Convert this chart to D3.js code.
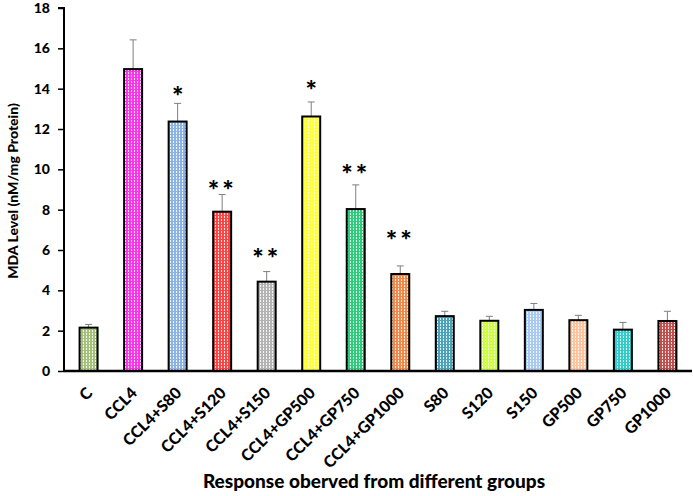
<!DOCTYPE html>
<html><head><meta charset="utf-8">
<script src="https://cdn.jsdelivr.net/npm/d3@7"></script>
<style>body{margin:0;background:#fff}svg{display:block}</style>
</head><body>
<svg id="c" width="693" height="496"></svg>
<script>
const categories = ["C","CCL4","CCL4+S80","CCL4+S120","CCL4+S150","CCL4+GP500","CCL4+GP750","CCL4+GP1000","S80","S120","S150","GP500","GP750","GP1000"];
const values = [2.15,14.97,12.37,7.9,4.43,12.62,8.03,4.81,2.72,2.49,3.03,2.52,2.05,2.48];
const errors = [0.16,1.45,0.9,0.85,0.5,0.72,1.2,0.4,0.24,0.22,0.32,0.24,0.36,0.48];
const colors = ["#a4c07a","#ff33ee","#8db3e2","#ff4444","#b4b4b4","#ffff3a","#2ecc7a","#f0884a","#4aa3b8","#ccff44","#a9c8f2","#fcc39c","#33cccc","#c0504d"];
const stars = ["","","*","**","**","*","**","**","","","","","",""];
const starLevels = [0,0,13.8,9.12,5.75,14.1,9.9,6.66,0,0,0,0,0,0];
const yTicks = [0,2,4,6,8,10,12,14,16,18];
const yTitle = "MDA Level (nM/mg Protein)";
const xTitle = "Response oberved from different groups";

const svg = d3.select("#c");
const font = "Lato, 'Open Sans', sans-serif";
const x = d3.scaleBand().domain(categories).range([64, 692]).paddingInner(0.596).paddingOuter(0.35);
const y = d3.scaleLinear().domain([0, 18]).range([371, 8]);

const defs = svg.append("defs");
colors.forEach((c, i) => {
  const p = defs.append("pattern").attr("id", "p" + i).attr("patternUnits", "userSpaceOnUse")
    .attr("width", 3).attr("height", 3);
  p.append("rect").attr("width", 3).attr("height", 3).attr("fill", c);
  p.append("rect").attr("x", 2).attr("y", 0).attr("width", 1).attr("height", 2).attr("fill", "#fff").attr("opacity", 0.85);
});

// y axis
const yAxis = d3.axisLeft(y).tickValues(yTicks).tickSize(6).tickFormat(d3.format("d"));
const ya = svg.append("g").attr("transform", "translate(64,0)").call(yAxis);
ya.select(".domain").attr("stroke", "#000").attr("stroke-width", 2).attr("d", "M-6,8H0V371");
ya.selectAll(".tick line").attr("stroke", "#000").attr("stroke-width", 1.5);
ya.selectAll(".tick text").attr("font-family", font).attr("font-weight", "900").attr("font-size", 14).attr("fill", "#000").attr("x", -14);

// bars, error bars, significance marks
const g = svg.append("g");
categories.forEach((cat, i) => {
  const cx = x(cat) + x.bandwidth() / 2;
  g.append("line").attr("x1", cx).attr("x2", cx).attr("y1", y(values[i])).attr("y2", y(values[i] + errors[i]))
    .attr("stroke", "#7f7f7f").attr("stroke-width", 1);
  g.append("line").attr("x1", cx - 3.5).attr("x2", cx + 3.5).attr("y1", y(values[i] + errors[i])).attr("y2", y(values[i] + errors[i]))
    .attr("stroke", "#7f7f7f").attr("stroke-width", 1);
  g.append("rect").attr("x", x(cat)).attr("y", y(values[i])).attr("width", x.bandwidth()).attr("height", y(0) - y(values[i]))
    .attr("fill", "url(#p" + i + ")").attr("stroke", "#000").attr("stroke-width", 2);
  if (stars[i]) {
    g.append("text").attr("x", cx).attr("y", y(starLevels[i]) + 13).attr("text-anchor", "middle")
      .attr("font-family", font).attr("font-weight", "900").attr("font-size", 27)
      .attr("letter-spacing", stars[i].length > 1 ? 3 : 0).text(stars[i]);
  }
});

// x axis
const xAxis = d3.axisBottom(x).tickSize(0);
const xa = svg.append("g").attr("transform", "translate(0,371)").call(xAxis);
xa.select(".domain").attr("stroke", "#000").attr("stroke-width", 2.5).attr("d", "M64,0H692");
xa.selectAll(".tick text").attr("font-family", font).attr("font-weight", "900").attr("font-size", 16).attr("fill", "#000")
  .attr("text-anchor", "end").attr("dy", null).attr("y", 0)
  .attr("transform", "translate(5,23) rotate(-45)");

// titles
svg.append("text").attr("x", 374).attr("y", 488).attr("text-anchor", "middle")
  .attr("font-family", font).attr("font-weight", "900").attr("font-size", 19).text(xTitle);
svg.append("text").attr("transform", "translate(18,191) rotate(-90)").attr("text-anchor", "middle")
  .attr("font-family", font).attr("font-weight", "900").attr("font-size", 14).text(yTitle);
</script>
</body></html>
